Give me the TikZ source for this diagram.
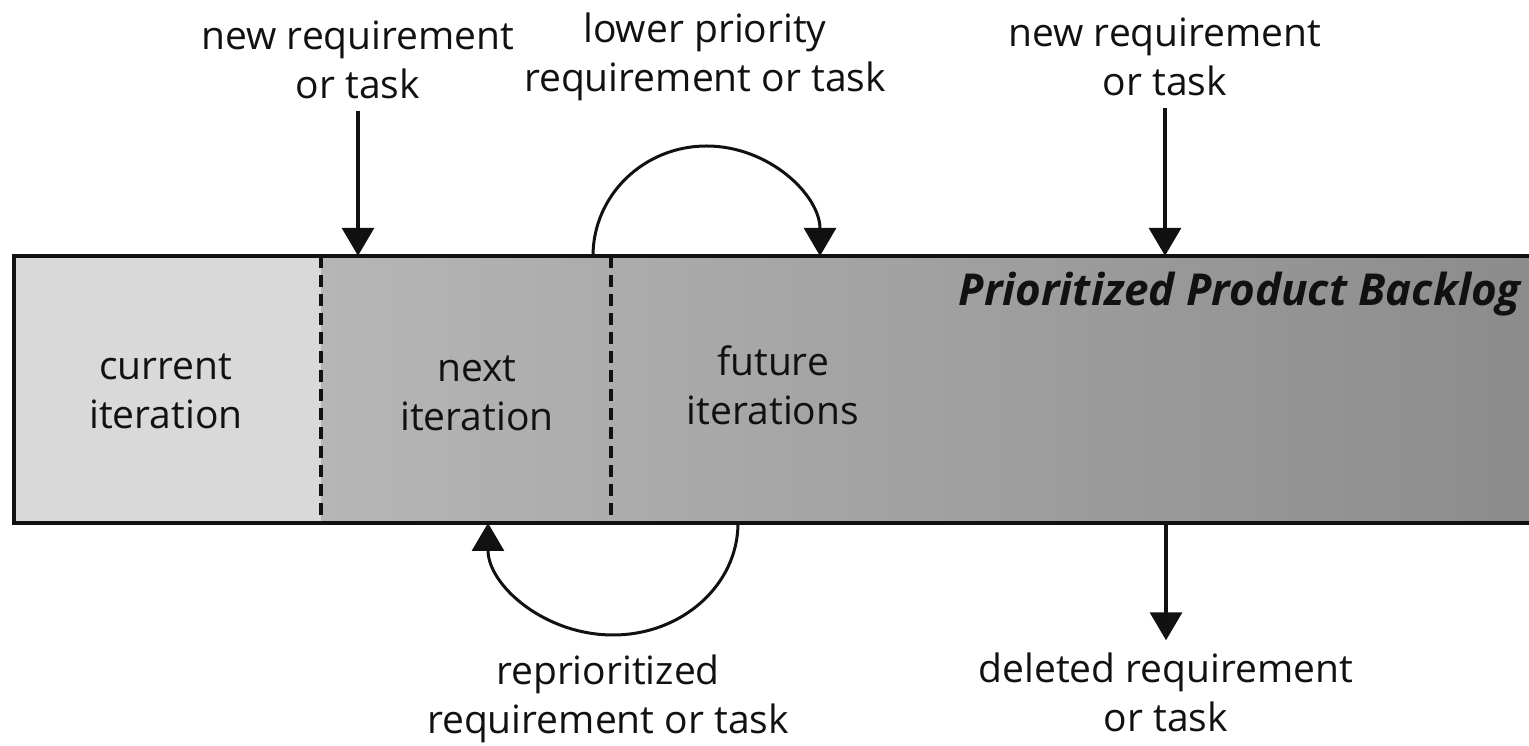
\documentclass[tikz,border=0pt]{standalone}
\usepackage{fontspec}
\setmainfont{Open Sans}
\usetikzlibrary{arrows.meta,positioning,calc}
\definecolor{ink}{HTML}{111111}
\definecolor{pale}{HTML}{D9D9D9}
\definecolor{midgray}{HTML}{B6B6B6}
\definecolor{deepgray}{HTML}{8C8C8C}

\begin{document}
\begin{tikzpicture}[x=1pt,y=1pt,
   t/.style={font=\fontsize{39}{49}\selectfont,align=center,text=ink,inner sep=0pt},
   a/.style={-{Triangle[width=32pt,length=28pt]},line width=3.5pt,ink},
   c/.style={-{Triangle[width=32pt,length=28pt]},line width=3pt,ink},
   d/.style={line width=4pt,ink,dash pattern=on 12pt off 7pt}]
  \useasboundingbox (0,0) rectangle (1529,746);
  \node[minimum width=1515pt,minimum height=267pt,inner sep=0pt] (bar) at (771.5,356.5) {};
  \coordinate (cut1) at (321,356.5);
  \coordinate (cut2) at (611,356.5);
  \fill[pale] (bar.south west) rectangle (bar.north -| cut1);
  \shade[left color=midgray,right color=deepgray] (bar.south -| cut1) rectangle (bar.north east);
  \draw[d] (bar.north -| cut1) -- (bar.south -| cut1);
  \draw[d] (bar.north -| cut2) -- (bar.south -| cut2);
  \draw[line width=4.5pt,ink] (bar.north east) -- (bar.north west) -- (bar.south west) -- (bar.south east);
  \node[t] (cur) at (166,355) {current\\iteration};
  \node[t] (nxt) at (477,353) {next\\iteration};
  \node[t] (fut) at (773,361) {future\\iterations};
  \node[t,font=\fontsize{44}{51}\selectfont\bfseries\itshape,anchor=base east] (pb) at (1521,440) {Prioritized Product Backlog};
  \node[t] (nr1) at (358,686) {new requirement\\or task};
  \node[t] (lp) at (705,689) {lower priority\\requirement or task};
  \node[t] (nr2) at (1165,689) {new requirement\\or task};
  \node[t] (rp) at (608,47) {reprioritized\\requirement or task};
  \node[t] (del) at (1166,54) {deleted requirement\\or task};
  \coordinate (upA) at (593,490);
  \coordinate (dnA) at (738,223);
  \draw[a,shorten <=12pt] (nr1) -- (nr1 |- bar.north);
  \draw[a,shorten <=12pt] (nr2) -- (nr2 |- bar.north);
  \draw[a,shorten >=12pt] (del |- bar.south) -- (del);
  \draw[c] (upA) arc[start angle=180,end angle=0,x radius=113.5,y radius=110];
  \draw[c] (dnA) arc[start angle=0,end angle=-180,x radius=125,y radius=112];
\end{tikzpicture}
\end{document}
